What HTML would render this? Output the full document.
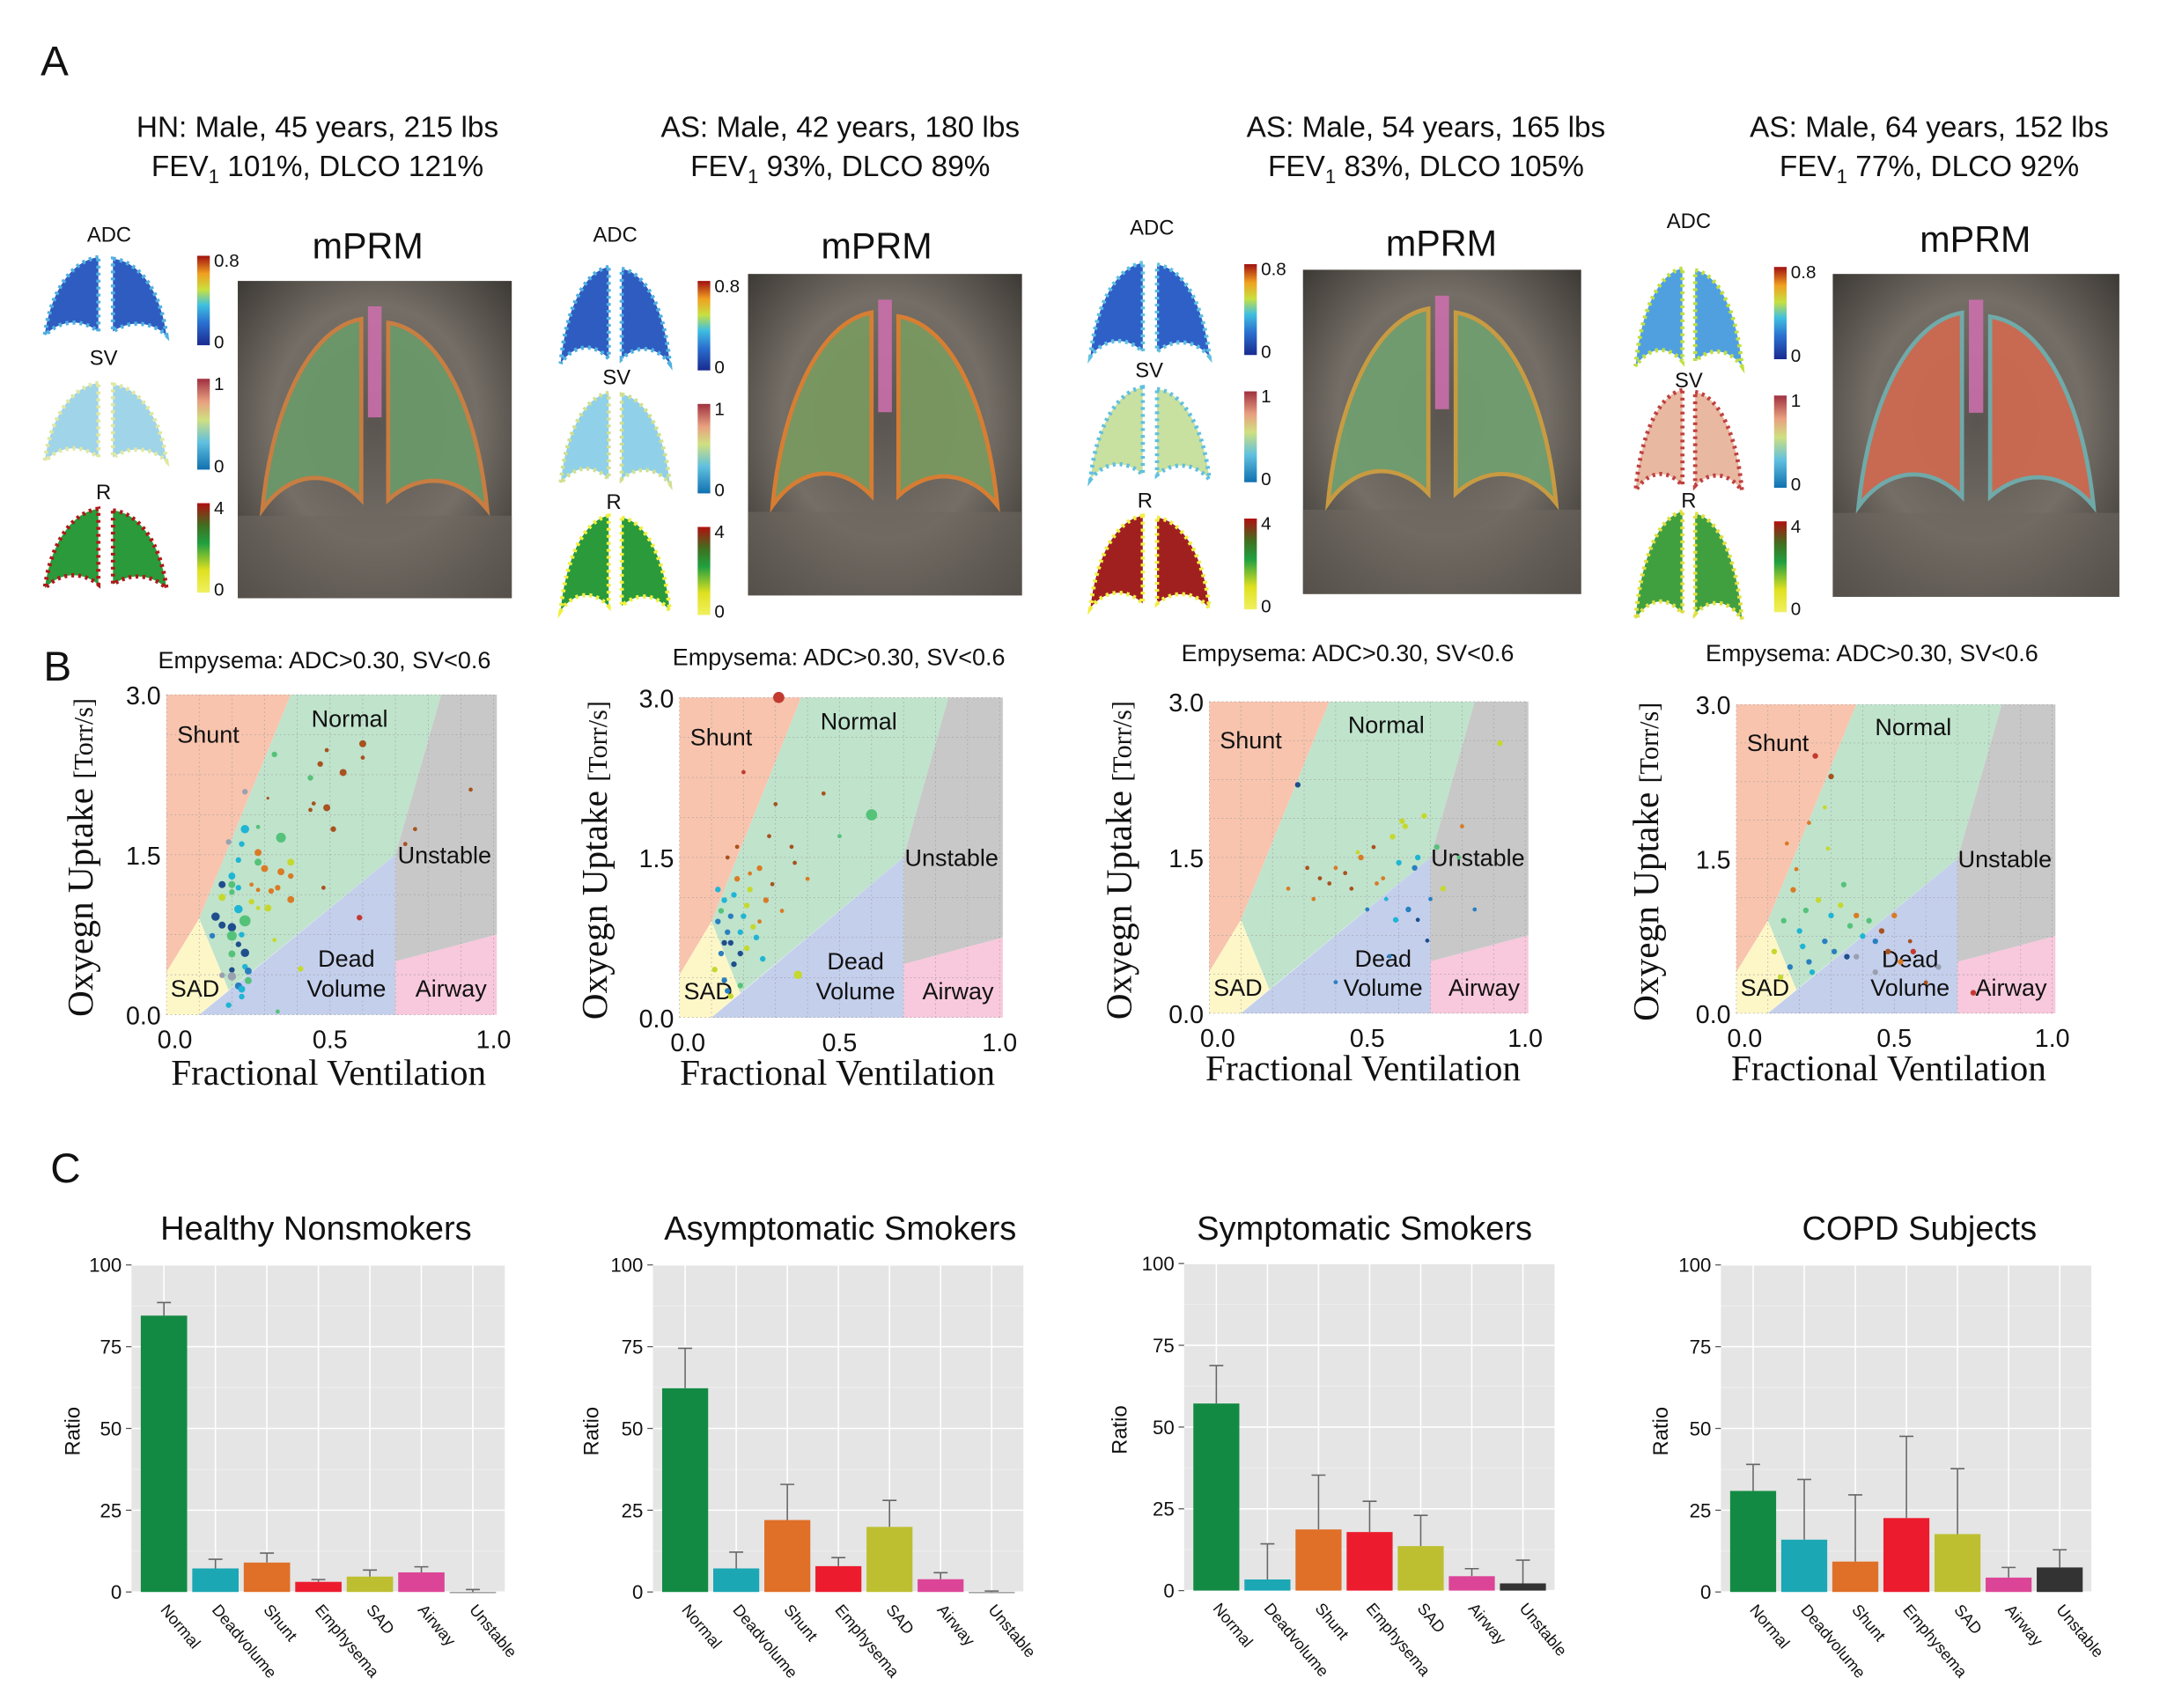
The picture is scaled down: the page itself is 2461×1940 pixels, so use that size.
<!DOCTYPE html>
<html><head><meta charset="utf-8"><style>
html,body{margin:0;padding:0;background:#fff}
svg{display:block}
text{font-family:"Liberation Sans",sans-serif;fill:#111}
.serif{font-family:"Liberation Serif",serif}
</style></head><body>
<svg id="fig" xmlns="http://www.w3.org/2000/svg" width="2461" height="1940" viewBox="0 0 1550 1222">
<defs>
<linearGradient id="jet" x1="0" y1="1" x2="0" y2="0"><stop offset="0" stop-color="#1a2a8f"/><stop offset="0.25" stop-color="#2a70d0"/><stop offset="0.45" stop-color="#40c0e0"/><stop offset="0.62" stop-color="#c8e040"/><stop offset="0.8" stop-color="#f0a020"/><stop offset="1" stop-color="#a01010"/></linearGradient>
<linearGradient id="svg" x1="0" y1="1" x2="0" y2="0"><stop offset="0" stop-color="#1070b0"/><stop offset="0.3" stop-color="#60c0e0"/><stop offset="0.55" stop-color="#d0e080"/><stop offset="0.75" stop-color="#e8a080"/><stop offset="1" stop-color="#a03040"/></linearGradient>
<linearGradient id="rg" x1="0" y1="1" x2="0" y2="0"><stop offset="0" stop-color="#f0f060"/><stop offset="0.25" stop-color="#e0e020"/><stop offset="0.55" stop-color="#20a040"/><stop offset="0.75" stop-color="#407020"/><stop offset="1" stop-color="#b01010"/></linearGradient>
<radialGradient id="mri" cx="0.5" cy="0.45" r="0.75"><stop offset="0" stop-color="#5a5550"/><stop offset="0.5" stop-color="#746e66"/><stop offset="1" stop-color="#2e2b28"/></radialGradient>
</defs>
<g id="panelA"></g>
<g id="panelB"></g>
<g id="panelC"></g>
</svg>
<script>
// ---------- Panel C data ----------
const barCategories = ["Normal","Deadvolume","Shunt","Emphysema","SAD","Airway","Unstable"];
const barTitles = ["Healthy Nonsmokers","Asymptomatic Smokers","Symptomatic Smokers","COPD Subjects"];
const hnValues = [84.5,7.2,9,3.1,4.7,6,0];
const hnErrors = [4,2.8,2.9,0.7,2,1.7,0.75];
const asValues = [62.3,7.2,22,7.9,19.9,3.9,0];
const asErrors = [12.2,5,10.9,2.6,8.1,2,0.3];
const ssValues = [57.2,3.4,18.7,17.9,13.6,4.4,2.2];
const ssErrors = [11.6,10.9,16.6,9.4,9.4,2.3,7.1];
const copdValues = [30.9,16,9.3,22.6,17.7,4.4,7.5];
const copdErrors = [8.1,18.4,20.4,25,20,3.1,5.4];
const yTicksC = [0,25,50,75,100];

// ---------- Panel B data ----------
const p1x = [0.60,0.49,0.60,0.47,0.54,0.33,0.44,0.24,0.93,0.31,0.45,0.49,0.44,0.51,0.76,0.73,0.59,0.35,0.24,0.28,0.19,0.23,0.28,0.28,0.30,0.35,0.38,0.38,0.22,0.20,0.17,0.20,0.22,0.26,0.28,0.32,0.34,0.48,0.38,0.17,0.20,0.26,0.22,0.31,0.28,0.15,0.24,0.17,0.20,0.14,0.20,0.23,0.22,0.33,0.24,0.20,0.24,0.25,0.20,0.20,0.17,0.25,0.22,0.23,0.23,0.19,0.41,0.34];
const p1y = [2.54,2.48,2.41,2.35,2.27,2.44,2.22,2.09,2.11,2.03,1.98,1.94,1.92,1.74,1.74,1.60,0.91,1.66,1.74,1.76,1.62,1.60,1.52,1.43,1.37,1.34,1.30,1.43,1.45,1.30,1.22,1.22,1.19,1.22,1.17,1.16,1.19,1.19,1.08,1.10,1.15,1.06,0.99,1.00,1.00,0.92,0.88,0.84,0.82,0.74,0.74,0.75,0.66,0.70,0.58,0.57,0.45,0.41,0.42,0.36,0.37,0.32,0.27,0.24,0.17,0.09,0.43,0.03];
const p1s = [5,3,3,4,5,4,4,4,3,2,3,5,3,4,3,3,4,7,6,3,4,4,5,5,5,5,4,5,4,5,5,5,4,3,3,4,4,3,5,5,4,4,6,5,3,6,8,5,6,4,7,4,4,3,6,5,4,5,4,6,4,5,5,5,4,4,4,3];
const p1c = [6,6,6,6,6,3,3,8,6,6,6,6,6,6,6,6,7,3,2,3,8,2,5,3,5,5,5,4,2,2,0,3,2,5,5,5,5,6,5,4,3,4,2,4,4,0,3,0,0,1,3,2,0,4,0,3,2,1,0,8,8,3,1,2,2,2,4,3];
const p2x = [0.31,0.60,0.37,0.12,0.14,0.16,0.18,0.20,0.13,0.15,0.22,0.25,0.17,0.19,0.28,0.30,0.14,0.21,0.24,0.35,0.40,0.45,0.12,0.16,0.19,0.23,0.27,0.32,0.36,0.50,0.15,0.18,0.26,0.11,0.20,0.13,0.17,0.21,0.15,0.19,0.25,0.29,0.14,0.16,0.22];
const p2y = [3.00,1.90,0.40,0.90,1.10,0.70,1.30,0.95,0.60,1.50,1.20,1.40,0.50,0.80,1.70,2.00,0.35,1.05,0.75,1.60,1.30,2.10,1.20,0.95,0.60,0.85,1.10,1.00,1.45,1.70,0.25,1.60,0.55,0.45,2.30,1.00,1.15,0.65,0.80,0.30,0.90,1.25,0.70,0.20,1.35];
const p2s = [4,4,3,2,2,2,2,2,2,1.5,2,2,2,2,1.5,1.5,2,2,2,1.5,1.5,1.5,2,2,2,2,2,1.5,1.5,1.5,2,1.5,2,2,1.5,2,2,2,2,2,1.5,1.5,2,2,1.5];
const p2c = [7,3,4,1,2,0,5,2,1,6,4,5,0,2,6,6,1,4,2,6,5,6,2,1,0,4,5,5,6,3,1,6,2,4,7,3,2,4,1,3,5,6,0,4,5];
const p3x = [0.28,0.35,0.40,0.45,0.48,0.52,0.55,0.58,0.60,0.62,0.65,0.68,0.70,0.72,0.50,0.56,0.63,0.43,0.38,0.33,0.66,0.74,0.59,0.53,0.47,0.79,0.92,0.40,0.61,0.69,0.57,0.66,0.80,0.84,0.31,0.25];
const p3y = [2.20,1.30,1.40,1.20,1.50,1.60,1.30,1.70,1.45,1.80,1.40,1.90,1.10,1.60,1.00,1.10,1.00,1.35,1.25,1.10,0.90,1.20,0.90,1.25,1.55,1.50,2.60,0.30,1.85,0.70,0.55,1.50,1.80,1.00,1.40,1.20];
const p3s = [2,1.5,1.5,1.5,2,1.5,1.5,2,2,2,2,2,1.5,2,1.5,1.5,2,1.5,1.5,1.5,1.5,2,2,1.5,1.5,1.5,2,1.5,2,1.5,1.5,2,1.5,1.5,1.5,1.5];
const p3c = [0,6,5,6,5,6,5,4,2,4,1,4,1,3,1,2,1,6,6,5,0,4,2,5,4,3,4,1,4,0,1,2,5,1,6,5];
const p4x = [0.12,0.15,0.18,0.20,0.22,0.25,0.28,0.30,0.33,0.36,0.40,0.44,0.48,0.52,0.17,0.21,0.26,0.31,0.38,0.46,0.24,0.29,0.35,0.42,0.55,0.14,0.19,0.23,0.60,0.28,0.34,0.50,0.23,0.30,0.16,0.38,0.44,0.56,0.64,0.75];
const p4y = [0.60,0.90,1.20,0.80,1.00,2.50,0.70,0.95,1.05,0.85,0.75,0.70,0.60,0.50,0.45,0.65,1.10,0.60,0.95,0.80,0.40,1.60,0.55,0.90,0.70,0.35,1.40,0.50,0.30,2.00,1.25,0.95,1.85,2.30,1.65,0.55,0.40,0.60,0.45,0.20];
const p4s = [2,2,2,2,2,2,2,2,2,2,2,2,2,2,2,2,2,2,2,2,2,1.5,2,2,1.5,2,1.5,2,1.5,1.5,2,2,1.5,2,1.5,2,2,2,2,2];
const p4c = [4,3,5,2,3,7,1,2,4,3,2,1,6,5,1,2,4,1,5,6,2,4,0,3,6,4,5,1,6,4,3,5,5,6,5,8,8,7,8,7];

const NS = "http://www.w3.org/2000/svg";
function mk(parent, tag, attrs, txt){
  const e = document.createElementNS(NS, tag);
  for (const k in attrs) e.setAttribute(k, attrs[k]);
  if (txt !== undefined) e.textContent = txt;
  parent.appendChild(e); return e;
}
const A = document.getElementById('panelA');
const B = document.getElementById('panelB');
const C = document.getElementById('panelC');

// ----------------- Panel A -----------------
let t;
t = mk(A,'text',{x:29,y:54,'font-size':30},'A');


const headers = [
 [227,"HN: Male, 45 years, 215 lbs","101%, DLCO 121%"],
 [601,"AS: Male, 42 years, 180 lbs","93%, DLCO 89%"],
 [1020,"AS: Male, 54 years, 165 lbs","83%, DLCO 105%"],
 [1380,"AS: Male, 64 years, 152 lbs","77%, DLCO 92%"]];
headers.forEach((h,i)=>{
  let a = mk(A,'text',{x:h[0],y:98,'font-size':21,'text-anchor':'middle'},h[1]);
  
  
  let b = mk(A,'text',{x:h[0],y:126,'font-size':21,'text-anchor':'middle'});
  
  
  b.innerHTML = 'FEV<tspan font-size="14" dy="5">1</tspan><tspan dy="-5"> '+h[2]+'</tspan>';
});
function lung(x,y,w,h){
  const l = `M${x+w*0.44},${y} C${x+w*0.2},${y+h*0.05} ${x+w*0.04},${y+h*0.5} ${x},${y+h} C${x+w*0.12},${y+h*0.8} ${x+w*0.3},${y+h*0.78} ${x+w*0.44},${y+h*0.95} Z`;
  const r = `M${x+w*0.56},${y+h*0.02} C${x+w*0.8},${y+h*0.06} ${x+w*0.96},${y+h*0.5} ${x+w},${y+h} C${x+w*0.88},${y+h*0.82} ${x+w*0.7},${y+h*0.8} ${x+w*0.56},${y+h*0.95} Z`;
  return l+' '+r;
}
const cols = [
 {adc:[32,184,87,56],sv:[32,274,87,56],r:[32,364,87,57],cb:141,cbY:[[183,247],[271,336],[360,424]],lab:[[78,173],[74,261],[74,357]],mt:[263,185],img:[170,201,196,227]},
 {adc:[401,191,78,69],sv:[401,281,78,65],r:[401,369,78,68],cb:499,cbY:[[201,265],[289,353],[377,440]],lab:[[440,173],[441,275],[439,364]],mt:[627,185],img:[535,196,196,230]},
 {adc:[780,188,85,67],sv:[780,277,85,66],r:[780,369,85,66],cb:890,cbY:[[189,254],[280,345],[371,436]],lab:[[824,168],[822,270],[819,363]],mt:[1031,183],img:[932,193,199,232]},
 {adc:[1170,192,76,70],sv:[1170,279,76,72],r:[1170,366,76,77],cb:1269,cbY:[[191,257],[283,349],[373,438]],lab:[[1208,163],[1208,277],[1208,363]],mt:[1413,180],img:[1311,196,205,231]}];
const mapFill = [[["#2e5cc0","#50b0e0"],["#2e5cc0","#50b0e0"],["#2e60c8","#60c0e0"],["#50a0e0","#c0e040"]],
                 [["#a0d4e8","#e0e8a0"],["#90d0e8","#d0e090"],["#c8e0a0","#60c0e0"],["#e8b8a0","#c04040"]],
                 [["#2a9a3a","#b01818"],["#2a9a3a","#f0f040"],["#a02020","#f0f040"],["#40a040","#e0e040"]]];
const mprmFill = ["#6a9a6a","#7a9a60","#70a070","#d06a50"];
const mprmEdge = ["#d08040","#e08030","#d0a040","#70b0b0"];
cols.forEach((c,i)=>{
  const names=["ADC","SV","R"], boxes=[c.adc,c.sv,c.r], grads=["url(#jet)","url(#svg)","url(#rg)"], tops=["0.8","1","4"];
  for(let k=0;k<3;k++){
    const bx=boxes[k];
    let lb = mk(A,'text',{x:c.lab[k][0],y:c.lab[k][1],'font-size':15,'text-anchor':'middle'},names[k]);
    
    
    let m = mk(A,'path',{d:lung(bx[0],bx[1],bx[2],bx[3]),fill:mapFill[k][i][0],stroke:mapFill[k][i][1],'stroke-width':3,'stroke-dasharray':'2 3'});
    
    
    const cy=c.cbY[k];
    let cb = mk(A,'rect',{x:c.cb,y:cy[0],width:9,height:cy[1]-cy[0],fill:grads[k]});
    
    
    let t1 = mk(A,'text',{x:c.cb+12,y:cy[0]+8,'font-size':13},tops[k]);
    
    
    let t0 = mk(A,'text',{x:c.cb+12,y:cy[1]+2,'font-size':13},'0');
    
    
  }
  let mt = mk(A,'text',{x:c.mt[0],y:c.mt[1],'font-size':26,'text-anchor':'middle'},'mPRM');
  
  
  const im=c.img;
  let r = mk(A,'rect',{x:im[0],y:im[1],width:im[2],height:im[3],fill:'url(#mri)'});
  
  
  let ov = mk(A,'path',{d:lung(im[0]+im[2]*0.09,im[1]+im[3]*0.12,im[2]*0.82,im[3]*0.6),fill:mprmFill[i],stroke:mprmEdge[i],'stroke-width':3,opacity:0.92});
  
  
  let br = mk(A,'rect',{x:im[0]+im[2]*0.475,y:im[1]+im[3]*0.08,width:im[2]*0.05,height:im[3]*0.35,fill:'#d070b0',opacity:0.85});
  
  
  let ab = mk(A,'rect',{x:im[0],y:im[1]+im[3]*0.74,width:im[2],height:im[3]*0.26,fill:'#6e6860',opacity:0.6});
  
  
});

// ----------------- Panel B -----------------
t = mk(B,'text',{x:31,y:487,'font-size':30},'B');


const palette = ["#1f4e8c","#2a7fc0","#1fb5d4","#55c27a","#c5d82e","#d97b25","#a8521e","#c23a30","#9aa0b0"];
const bPanels = [
 {x0:119,x1:353,yt:497,yb:726,title:[232,478],yl:66,xl:[235,776],xs:p1x,ys:p1y,ss:p1s,cs:p1c,sc:0.5},
 {x0:486,x1:715,yt:499,yb:728,title:[600,476],yl:434,xl:[599,776],xs:p2x,ys:p2y,ss:p2s,cs:p2c,sc:1},
 {x0:865,x1:1091,yt:502,yb:725,title:[964,473],yl:809,xl:[975,773],xs:p3x,ys:p3y,ss:p3s,cs:p3c,sc:1},
 {x0:1242,x1:1468,yt:504,yb:725,title:[1339,473],yl:1186,xl:[1351,773],xs:p4x,ys:p4y,ss:p4s,cs:p4c,sc:1}];
const regions = [
 ["shunt","#f8c4ae",[[0,0.4],[0,3],[0.38,3],[0.1,0.9]]],
 ["normal","#c0e3cc",[[0.1,0.9],[0.38,3],[0.84,3],[0.7,1.5],[0.19,0.23]]],
 ["unstable","#c8c8c8",[[0.84,3],[1.01,3],[1.01,0.75],[0.7,0.5],[0.7,1.5]]],
 ["airway","#f8c8dc",[[0.7,0],[1.01,0],[1.01,0.75],[0.7,0.5]]],
 ["deadvolume","#c4cfec",[[0.1,0],[0.7,0],[0.7,1.5]]],
 ["sad","#fdf7c8",[[0,0],[0,0.4],[0.1,0.9],[0.19,0.23],[0.1,0]]]];
const regionLabels = [["Shunt",0.02,2.55,"start"],["Normal",0.56,2.7,"middle"],["Unstable",0.85,1.42,"middle"],["Dead",0.55,0.45,"middle"],["Volume",0.55,0.17,"middle"],["Airway",0.87,0.17,"middle"],["SAD",0.0,0.17,"start"]];
bPanels.forEach((p,i)=>{
  const X = v => p.x0 + v*(p.x1-p.x0);
  const Y = v => p.yb - v/3*(p.yb-p.yt);
  const g = mk(B,'g',{});
  
  
  regions.forEach(rg=>{
    const e = mk(g,'polygon',{points:rg[2].map(q=>X(q[0])+','+Y(q[1])).join(' '),fill:rg[1]});
    
    
  });
  for(let k=0;k<=10;k++){
    const e = mk(g,'line',{x1:X(k/10),x2:X(k/10),y1:Y(0),y2:Y(3),stroke:'#999','stroke-width':0.4,'stroke-dasharray':'1 2'});
    
    
  }
  for(let k=0;k<=8;k++){
    const e = mk(g,'line',{x1:X(0),x2:X(1),y1:Y(k*0.375),y2:Y(k*0.375),stroke:'#999','stroke-width':0.4,'stroke-dasharray':'1 2'});
    
    
  }
  regionLabels.forEach(l=>{
    const e = mk(g,'text',{x:X(l[1])+(l[3]==='start'?3:0),y:Y(l[2]),'font-size':17,'text-anchor':l[3]},l[0]);
    
    
  });
  for(let k=0;k<p.xs.length;k++){
    const e = mk(g,'circle',{cx:X(p.xs[k]),cy:Y(p.ys[k]),r:p.ss[k]*p.sc,fill:palette[p.cs[k]]});
    
    
  }
  ["0.0","1.5","3.0"].forEach((s,k)=>{
    const e = mk(g,'text',{x:p.x0-4,y:Y(k*1.5)+7,'font-size':18,'text-anchor':'end'},s);
    
    
  });
  ["0.0","0.5","1.0"].forEach((s,k)=>{
    const e = mk(g,'text',{x:X(k*0.5)+(k===0?6:0),y:p.yb+24,'font-size':18,'text-anchor':'middle'},s);
    
    
  });
  let tt = mk(g,'text',{x:p.title[0],y:p.title[1],'font-size':17,'text-anchor':'middle'},'Empysema:  ADC>0.30,  SV<0.6');
  
  
  let xl = mk(g,'text',{x:p.xl[0],y:p.xl[1],'font-size':26,'text-anchor':'middle',class:'serif'},'Fractional Ventilation');
  
  
  const cy=(p.yt+p.yb)/2+2;
  let yl = mk(g,'text',{x:p.yl,y:cy,'font-size':26,'text-anchor':'middle',class:'serif',transform:`rotate(-90 ${p.yl} ${cy})`});
  yl.innerHTML='Oxyegn Uptake <tspan font-size="19">[Torr/s]</tspan>';
  
  
});

// ----------------- Panel C -----------------
t = mk(C,'text',{x:36,y:846,'font-size':30},'C');


const barColors = ["#138a43","#1ba7b4","#e06f28","#ec1c2e","#bdbf30","#dc4597","#333333"];
const cPanels = [
 {x0:94,x1:361,y0:1139,y1:905,title:226,rl:57,vals:hnValues,errs:hnErrors},
 {x0:467,x1:732,y0:1139,y1:905,title:601,rl:428,vals:asValues,errs:asErrors},
 {x0:847,x1:1112,y0:1138,y1:904,title:976,rl:806,vals:ssValues,errs:ssErrors},
 {x0:1231,x1:1496,y0:1139,y1:905,title:1373,rl:1193,vals:copdValues,errs:copdErrors}];
cPanels.forEach((p,i)=>{
  const Y = v => p.y0 + v/100*(p.y1-p.y0);
  const band = (p.x1-p.x0)/7.25;
  const XC = k => p.x0 + (k+0.63)*band;
  const g = mk(C,'g',{});
  
  
  let bg = mk(g,'rect',{x:p.x0,y:p.y1,width:p.x1-p.x0,height:p.y0-p.y1,fill:'#e5e5e5'});
  
  
  for(let v=12.5; v<100; v+=25){
    const e = mk(g,'line',{x1:p.x0,x2:p.x1,y1:Y(v),y2:Y(v),stroke:'#f0f0f0','stroke-width':0.5});
    
    
  }
  yTicksC.forEach(v=>{
    const e = mk(g,'line',{x1:p.x0,x2:p.x1,y1:Y(v),y2:Y(v),stroke:'#fff','stroke-width':1});
    
    
    const tk = mk(g,'line',{x1:p.x0-4,x2:p.x0,y1:Y(v),y2:Y(v),stroke:'#555','stroke-width':0.8});
    
    
    const tl = mk(g,'text',{x:p.x0-7,y:Y(v)+5,'font-size':14,'text-anchor':'end'},String(v));
    
    
  });
  barCategories.forEach((cat,k)=>{
    const e = mk(g,'line',{x1:XC(k),x2:XC(k),y1:p.y1,y2:p.y0,stroke:'#fff','stroke-width':1});
    
    
  });
  barCategories.forEach((cat,k)=>{
    const bw = band*0.9, v=p.vals[k], er=p.errs[k];
    const r = mk(g,'rect',{x:XC(k)-bw/2,y:Y(v),width:bw,height:Math.max(Y(0)-Y(v),0.8),fill:v<0.5?'#888':barColors[k]});
    
    
    const el = mk(g,'path',{d:`M${XC(k)},${Y(v)} V${Y(v+er)} M${XC(k)-5},${Y(v+er)} H${XC(k)+5}`,stroke:'#666','stroke-width':1,fill:'none'});
    
    
    const lx=XC(k)-3, ly=p.y0+13;
    const tl = mk(g,'text',{x:lx,y:ly,'font-size':11.5,transform:`rotate(50 ${lx} ${ly})`},cat);
    
    
  });
  const tt = mk(g,'text',{x:p.title,y:887,'font-size':24,'text-anchor':'middle'},barTitles[i]);
  
  
  const cy=(p.y0+p.y1)/2+2;
  const rl = mk(g,'text',{x:p.rl,y:cy,'font-size':15,'text-anchor':'middle',transform:`rotate(-90 ${p.rl} ${cy})`},'Ratio');
  
  
});
</script>
</body></html>
